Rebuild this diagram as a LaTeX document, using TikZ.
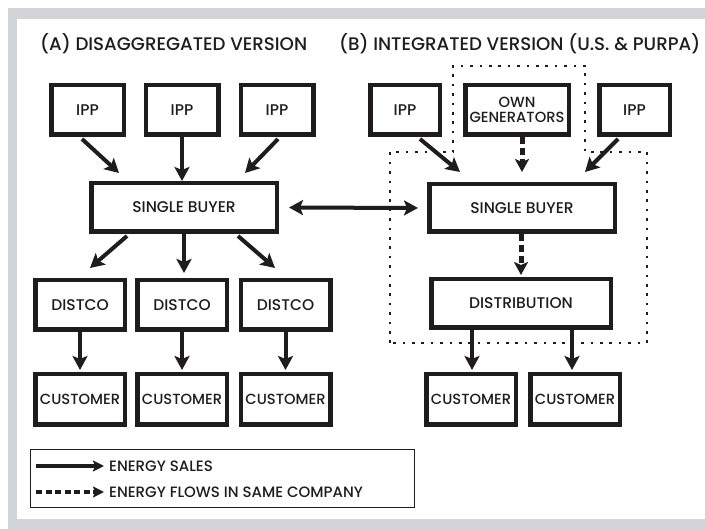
\documentclass[tikz,border=0pt]{standalone}
\usepackage{fontspec}
\setmainfont{Poppins}[UprightFont={* Medium}]
\usetikzlibrary{arrows.meta,calc}
\definecolor{framegrey}{RGB}{211,212,216}
\definecolor{ink}{RGB}{30,28,29}

\begin{document}
\begin{tikzpicture}[x=1pt,y=-1pt,
  box/.style={draw=ink, line width=4.5pt, text=ink, align=center, inner sep=0pt,
              font=\fontsize{15.5}{15.5}\selectfont},
  narrowtext/.style={font=\fontsize{14.7}{15.5}\selectfont},
  head/.style={text=ink, anchor=base west, inner sep=0pt,
               font=\fontsize{18.2}{20}\selectfont},
  sale/.style={draw=ink, line width=4pt, -{Stealth[length=14pt,width=15pt,inset=3pt]}},
  twoway/.style={draw=ink, line width=4pt, {Stealth[length=14pt,width=15pt,inset=3pt]}-{Stealth[length=14pt,width=15pt,inset=3pt]}},
  inhouse/.style={draw=ink, line width=5pt, dash pattern=on 7pt off 4pt,
                  -{Stealth[length=13pt,width=14pt,inset=3pt]}},
  company/.style={draw=ink, line width=2.6pt, dash pattern=on 2.6pt off 6.8pt},
  legtext/.style={text=ink, anchor=west, inner sep=0pt, font=\fontsize{15}{15}\selectfont},
]
\useasboundingbox (0,0) rectangle (705,529);

% frame
\fill[framegrey] (8,8) rectangle (705,529);
\fill[white] (17,19) rectangle (705,519);

% headings
\node[head] (ha) at (40,51) {(A) DISAGGREGATED VERSION};
\node[head] (hb) at (339,51) {(B) INTEGRATED VERSION (U.S. \& PURPA)};

% ---- (A) disaggregated
\node[box, minimum width=72.5pt, minimum height=49.5pt] (ippa1) at (87.5,110) {IPP};
\node[box, minimum width=72.5pt, minimum height=49.5pt] (ippa2) at (182,110) {IPP};
\node[box, minimum width=72.5pt, minimum height=49.5pt] (ippa3) at (277,110) {IPP};
\node[box, minimum width=185.5pt, minimum height=48.5pt] (sba) at (184,207.5) {SINGLE BUYER};
\node[box, minimum width=89.5pt, minimum height=49.5pt] (da1) at (80,305) {DISTCO};
\node[box, minimum width=89.5pt, minimum height=49.5pt] (da2) at (182,305) {DISTCO};
\node[box, minimum width=89.5pt, minimum height=49.5pt] (da3) at (285.5,305) {DISTCO};
\node[box, narrowtext, minimum width=89.5pt, minimum height=50.5pt] (ca1) at (80,399.5) {CUSTOMER};
\node[box, narrowtext, minimum width=89.5pt, minimum height=50.5pt] (ca2) at (182,399.5) {CUSTOMER};
\node[box, narrowtext, minimum width=89.5pt, minimum height=50.5pt] (ca3) at (285.5,399.5) {CUSTOMER};

\draw[sale] ([xshift=-5.5pt,yshift=-2pt]ippa1.south) -- ([xshift=-65pt,yshift=8pt]sba.north);
\draw[sale] (ippa2.south) -- (ippa2.south |- sba.north);
\draw[sale] ([xshift=1pt,yshift=-2pt]ippa3.south) -- ([xshift=61pt,yshift=8pt]sba.north);
\draw[sale] ([xshift=-57pt,yshift=-2pt]sba.south) -- ([xshift=10pt,yshift=10pt]da1.north);
\draw[sale, shorten >=5pt] (sba.south) -- (sba.south |- da2.north);
\draw[sale] ([xshift=54pt,yshift=-2pt]sba.south) -- ([xshift=-10.5pt,yshift=10pt]da3.north);
\draw[sale, shorten >=2pt] (da1.south) -- (ca1.north);
\draw[sale, shorten >=2pt] (da2.south) -- (ca2.north);
\draw[sale, shorten >=2pt] (da3.south) -- (ca3.north);

% ---- (B) integrated
\node[box, minimum width=69.5pt, minimum height=49.5pt] (ippb1) at (405,110) {IPP};
\node[box, narrowtext, minimum width=103.5pt, minimum height=49.5pt] (own) at (517,110) {OWN\\GENERATORS};
\node[box, minimum width=70.5pt, minimum height=49.5pt] (ippb2) at (634.5,110) {IPP};
\node[box, minimum width=185.5pt, minimum height=47.5pt] (sbb) at (522,208) {SINGLE BUYER};
\node[box, minimum width=179.5pt, minimum height=48.5pt] (dist) at (521,303.5) {DISTRIBUTION};
\node[box, narrowtext, minimum width=89.5pt, minimum height=50.5pt] (cb1) at (471,399.5) {CUSTOMER};
\node[box, narrowtext, minimum width=89.5pt, minimum height=50.5pt] (cb2) at (575,399.5) {CUSTOMER};

% boundary of the integrated company
\draw[company] (390,343) -- (390,152) -- (453,152) -- (453,66) -- (585,66)
  -- (585,152) -- (647,152) -- (647,343) -- cycle;

\draw[sale] ([xshift=15pt,yshift=-2pt]ippb1.south) -- ([xshift=-62pt,yshift=10pt]sbb.north);
\draw[inhouse] (own.south -| sbb.north) -- ([yshift=10pt]sbb.north);
\draw[sale] ([xshift=-16.5pt,yshift=-2pt]ippb2.south) -- ([xshift=63pt,yshift=10pt]sbb.north);
\draw[inhouse, shorten >=2pt] (sbb.south -| dist.north) -- (dist.north);
\draw[sale, shorten >=2pt] ([xshift=1pt]dist.south -| cb1.north) -- ([xshift=1pt]cb1.north);
\draw[sale, shorten >=2pt] ([xshift=-3pt]dist.south -| cb2.north) -- ([xshift=-3pt]cb2.north);

% trade between the two single buyers
\draw[twoway, shorten <=10pt, shorten >=9pt] (sba.east) -- (sbb.west);

% ---- legend
\node[draw=ink, line width=0.8pt, minimum width=384pt, minimum height=58pt, inner sep=0pt] (legend) at (222.5,478.5) {};
\coordinate (ls1) at (36,466);
\coordinate (le1) at (104,466);
\coordinate (ls2) at (36,492);
\coordinate (le2) at (104,492);
\draw[draw=ink, line width=3.2pt, -{Stealth[length=11pt,width=11pt,inset=2pt]}] (ls1) -- (le1);
\draw[draw=ink, line width=4.2pt, dash pattern=on 6pt off 3.5pt, -{Stealth[length=11pt,width=11pt,inset=2pt]}] (ls2) -- (le2);
\node[legtext] (lt1) at (109,466) {ENERGY SALES};
\node[legtext] (lt2) at (109,492) {ENERGY FLOWS IN SAME COMPANY};
\end{tikzpicture}
\end{document}
